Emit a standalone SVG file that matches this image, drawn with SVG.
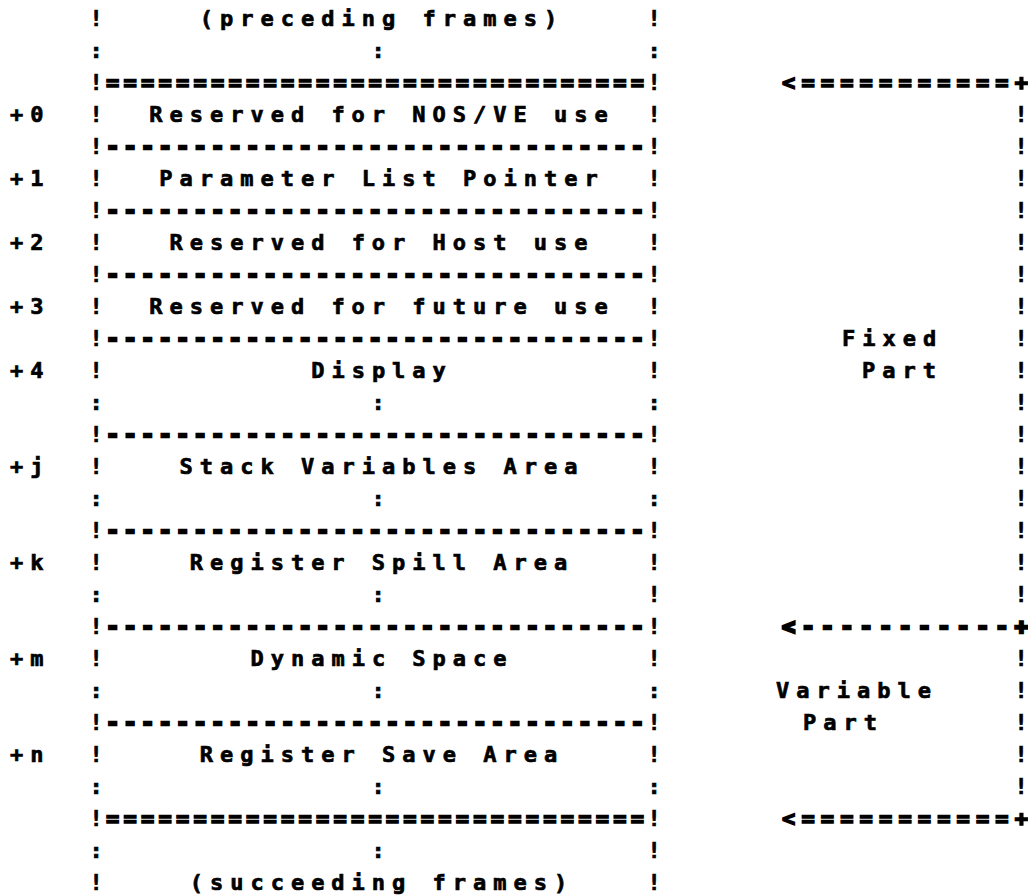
<svg xmlns="http://www.w3.org/2000/svg" width="1028" height="895" viewBox="0 0 1028 895">
<style>
text{font-family:"DejaVu Sans Mono","Liberation Mono",monospace;font-weight:bold;font-size:22px;fill:#000;stroke:#000;stroke-width:0.7}
.c{text-anchor:middle}
.w{letter-spacing:7px}
.d{stroke-width:1.6}
.h{stroke-width:2.6}
</style>
<rect width="1028" height="895" fill="#fff"/>
<g id="labels">
<text x="10" y="122" class="w">+0</text>
<text x="10" y="186" class="w">+1</text>
<text x="10" y="250" class="w">+2</text>
<text x="10" y="314" class="w">+3</text>
<text x="10" y="378" class="w">+4</text>
<text x="10" y="474" class="w">+j</text>
<text x="10" y="570" class="w">+k</text>
<text x="10" y="666" class="w">+m</text>
<text x="10" y="762" class="w">+n</text>
</g>
<g id="preceding">
<text x="96" y="26" class="c">!</text><text x="382" y="26" class="c w">(preceding frames)</text><text x="654" y="26" class="c">!</text>
<text x="96" y="58" class="c">:</text><text x="378" y="58" class="c">:</text><text x="654" y="58" class="c">:</text>
</g>
<g id="sep-top"><text x="96" y="90" class="c">!</text><text x="106" y="90" class="d" textLength="538" lengthAdjust="spacing">===============================</text><text x="654" y="90" class="c">!</text></g>
<g id="nosve"><text x="96" y="122" class="c">!</text><text x="382" y="122" class="c w">Reserved for NOS/VE use</text><text x="654" y="122" class="c">!</text></g>
<g id="sep1"><text x="96" y="154" class="c">!</text><text x="106" y="154" class="h" textLength="538" lengthAdjust="spacing">-------------------------------</text><text x="654" y="154" class="c">!</text></g>
<g id="param"><text x="96" y="186" class="c">!</text><text x="382" y="186" class="c w">Parameter List Pointer</text><text x="654" y="186" class="c">!</text></g>
<g id="sep2"><text x="96" y="218" class="c">!</text><text x="106" y="218" class="h" textLength="538" lengthAdjust="spacing">-------------------------------</text><text x="654" y="218" class="c">!</text></g>
<g id="host"><text x="96" y="250" class="c">!</text><text x="382" y="250" class="c w">Reserved for Host use</text><text x="654" y="250" class="c">!</text></g>
<g id="sep3"><text x="96" y="282" class="c">!</text><text x="106" y="282" class="h" textLength="538" lengthAdjust="spacing">-------------------------------</text><text x="654" y="282" class="c">!</text></g>
<g id="future"><text x="96" y="314" class="c">!</text><text x="382" y="314" class="c w">Reserved for future use</text><text x="654" y="314" class="c">!</text></g>
<g id="sep4"><text x="96" y="346" class="c">!</text><text x="106" y="346" class="h" textLength="538" lengthAdjust="spacing">-------------------------------</text><text x="654" y="346" class="c">!</text></g>
<g id="display"><text x="96" y="378" class="c">!</text><text x="382" y="378" class="c w">Display</text><text x="654" y="378" class="c">!</text>
<text x="96" y="410" class="c">:</text><text x="378" y="410" class="c">:</text><text x="654" y="410" class="c">:</text></g>
<g id="sep5"><text x="96" y="442" class="c">!</text><text x="106" y="442" class="h" textLength="538" lengthAdjust="spacing">-------------------------------</text><text x="654" y="442" class="c">!</text></g>
<g id="stackvars"><text x="96" y="474" class="c">!</text><text x="382" y="474" class="c w">Stack Variables Area</text><text x="654" y="474" class="c">!</text>
<text x="96" y="506" class="c">:</text><text x="378" y="506" class="c">:</text><text x="654" y="506" class="c">:</text></g>
<g id="sep6"><text x="96" y="538" class="c">!</text><text x="106" y="538" class="h" textLength="538" lengthAdjust="spacing">-------------------------------</text><text x="654" y="538" class="c">!</text></g>
<g id="spill"><text x="96" y="570" class="c">!</text><text x="382" y="570" class="c w">Register Spill Area</text><text x="654" y="570" class="c">!</text>
<text x="96" y="602" class="c">:</text><text x="378" y="602" class="c">:</text><text x="654" y="602" class="c">!</text></g>
<g id="sep7"><text x="96" y="634" class="c">!</text><text x="106" y="634" class="h" textLength="538" lengthAdjust="spacing">-------------------------------</text><text x="654" y="634" class="c">!</text></g>
<g id="dynamic"><text x="96" y="666" class="c">!</text><text x="382" y="666" class="c w">Dynamic Space</text><text x="654" y="666" class="c">!</text>
<text x="96" y="698" class="c">:</text><text x="378" y="698" class="c">:</text><text x="654" y="698" class="c">:</text></g>
<g id="sep8"><text x="96" y="730" class="c">!</text><text x="106" y="730" class="h" textLength="538" lengthAdjust="spacing">-------------------------------</text><text x="654" y="730" class="c">!</text></g>
<g id="save"><text x="96" y="762" class="c">!</text><text x="382" y="762" class="c w">Register Save Area</text><text x="654" y="762" class="c">!</text>
<text x="96" y="794" class="c">:</text><text x="378" y="794" class="c">:</text><text x="654" y="794" class="c">:</text></g>
<g id="sep-bottom"><text x="96" y="826" class="c">!</text><text x="106" y="826" class="d" textLength="538" lengthAdjust="spacing">===============================</text><text x="654" y="826" class="c">!</text></g>
<g id="succeeding">
<text x="96" y="858" class="c">:</text><text x="378" y="858" class="c">:</text><text x="654" y="858" class="c">!</text>
<text x="96" y="890" class="c">!</text><text x="382" y="890" class="c w">(succeeding frames)</text><text x="654" y="890" class="c">!</text>
</g>
<g id="fixed-part">
<text x="842" y="346" class="w">Fixed</text>
<text x="862" y="378" class="w">Part</text>
</g>
<g id="variable-part">
<text x="776" y="698" class="w">Variable</text>
<text x="803" y="730" class="w">Part</text>
</g>
<g id="connectors">
<text x="782" y="90" class="d" textLength="246" lengthAdjust="spacing">&lt;===========+</text>
<text x="1021" y="122" class="c">!</text><text x="1021" y="154" class="c">!</text><text x="1021" y="186" class="c">!</text><text x="1021" y="218" class="c">!</text>
<text x="1021" y="250" class="c">!</text><text x="1021" y="282" class="c">!</text><text x="1021" y="314" class="c">!</text><text x="1021" y="346" class="c">!</text>
<text x="1021" y="378" class="c">!</text><text x="1021" y="410" class="c">!</text><text x="1021" y="442" class="c">!</text><text x="1021" y="474" class="c">!</text>
<text x="1021" y="506" class="c">!</text><text x="1021" y="538" class="c">!</text><text x="1021" y="570" class="c">!</text><text x="1021" y="602" class="c">!</text>
<text x="782" y="634" class="h" textLength="246" lengthAdjust="spacing">&lt;-----------+</text>
<text x="1021" y="666" class="c">!</text><text x="1021" y="698" class="c">!</text><text x="1021" y="730" class="c">!</text><text x="1021" y="762" class="c">!</text><text x="1021" y="794" class="c">!</text>
<text x="782" y="826" class="d" textLength="246" lengthAdjust="spacing">&lt;===========+</text>
</g>
</svg>
